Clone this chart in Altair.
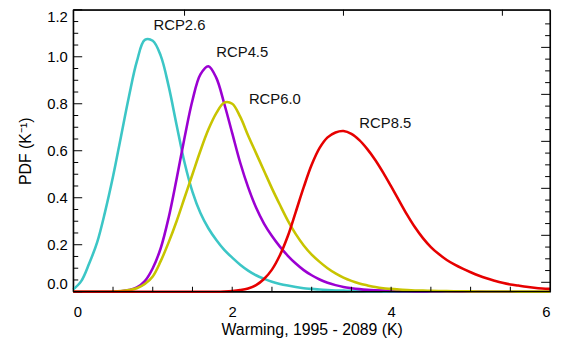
import altair as alt
import pandas as pd

# ---- data ----
x_grid = [round(i * 0.1, 1) for i in range(61)]  # 0.0 .. 6.0 K

rcp26 = [0.01, 0.045, 0.12, 0.21, 0.34, 0.49, 0.66, 0.83, 0.98, 1.072,
         1.068, 1.005, 0.875, 0.71, 0.55, 0.425, 0.335, 0.27, 0.22, 0.178,
         0.145, 0.115, 0.09, 0.07, 0.055, 0.042, 0.033, 0.026, 0.02, 0.015,
         0.012, 0.009, 0.007, 0.0055, 0.0045, 0.0035, 0.003, 0.0025, 0.002, 0.0015,
         0.0012, 0.001, 0.0008, 0.0006, 0.0005, 0.0004, 0.0003, 0.0002, 0.0002, 0.0001,
         0.0001, 0.0001, 0.0, 0.0, 0.0, 0.0, 0.0, 0.0, 0.0, 0.0, 0.0]

rcp45 = [0.0, 0.0, 0.0, 0.0, 0.0, 0.0, 0.002, 0.007, 0.018, 0.045,
         0.10, 0.185, 0.315, 0.48, 0.655, 0.815, 0.925, 0.96, 0.91, 0.80,
         0.675, 0.55, 0.445, 0.358, 0.29, 0.237, 0.192, 0.153, 0.12, 0.092,
         0.07, 0.052, 0.038, 0.028, 0.02, 0.015, 0.011, 0.008, 0.006, 0.0045,
         0.0035, 0.0025, 0.002, 0.0015, 0.001, 0.0008, 0.0006, 0.0005, 0.0004, 0.0003,
         0.0002, 0.0002, 0.0001, 0.0001, 0.0, 0.0, 0.0, 0.0, 0.0, 0.0, 0.0]

rcp60 = [0.0, 0.0, 0.0, 0.0, 0.0, 0.001, 0.003, 0.007, 0.015, 0.033,
         0.065, 0.13, 0.21, 0.30, 0.40, 0.50, 0.60, 0.69, 0.76, 0.805,
         0.80, 0.745, 0.665, 0.59, 0.515, 0.44, 0.37, 0.303, 0.245, 0.197,
         0.158, 0.127, 0.10, 0.078, 0.06, 0.046, 0.035, 0.027, 0.02, 0.015,
         0.012, 0.009, 0.007, 0.0055, 0.0045, 0.0035, 0.003, 0.0025, 0.002, 0.0016,
         0.0013, 0.001, 0.0008, 0.0007, 0.0006, 0.0005, 0.0004, 0.0003, 0.0003, 0.0002, 0.0002]

rcp85 = [0.0, 0.0, 0.0, 0.0, 0.0, 0.0, 0.0, 0.0, 0.0, 0.0,
         0.0, 0.0, 0.0, 0.0, 0.0, 0.0, 0.0, 0.0, 0.0, 0.001,
         0.003, 0.007, 0.014, 0.028, 0.054, 0.094, 0.155, 0.237, 0.34, 0.445,
         0.54, 0.612, 0.657, 0.678, 0.684, 0.672, 0.645, 0.607, 0.561, 0.507,
         0.448, 0.388, 0.328, 0.274, 0.228, 0.19, 0.16, 0.135, 0.115, 0.098,
         0.083, 0.069, 0.057, 0.047, 0.038, 0.031, 0.026, 0.021, 0.017, 0.014, 0.012]

series_names = ["RCP2.6", "RCP4.5", "RCP6.0", "RCP8.5"]
series_values = [rcp26, rcp45, rcp60, rcp85]
series_colors = ["#3CC6C6", "#9B00D2", "#C8C400", "#E60000"]

label_text = ["RCP2.6", "RCP4.5", "RCP6.0", "RCP8.5"]
label_x = [1.01, 1.80, 2.21, 3.60]
label_y = [1.133, 1.02, 0.82, 0.72]

x_tick_labels = [0, 2, 4, 6]
x_minor_ticks = [0.5, 1.0, 1.5, 2.0, 2.5, 3.0, 3.5, 4.0, 4.5, 5.0, 5.5]
top_ticks = [1.4, 3.4, 5.4]
y_major = [0.0, 0.2, 0.4, 0.6, 0.8, 1.0, 1.2]
y_minor = [0.05, 0.1, 0.15, 0.25, 0.3, 0.35, 0.45, 0.5, 0.55, 0.65, 0.7, 0.75,
           0.85, 0.9, 0.95, 1.05, 1.1, 1.15]
right_major = [0.04, 0.24, 0.44, 0.64, 0.84, 1.04]
right_minor = [0.09, 0.14, 0.19, 0.29, 0.34, 0.39, 0.49, 0.54, 0.59, 0.69, 0.74, 0.79,
               0.89, 0.94, 0.99, 1.09, 1.14]
frame_x = [0, 6]
frame_y = [0.0, 1.2]

W, H = 482, 285
FONT = "Liberation Sans"

xscale = alt.Scale(domain=[0, 6], nice=False, zero=False)
yscale = alt.Scale(domain=[0, 1.2], nice=False, zero=False)

xaxis = alt.Axis(title="Warming, 1995 - 2089 (K)", values=x_tick_labels,
                 format="d", ticks=False, domain=False, grid=False,
                 labelPadding=13, titlePadding=2, labelFontSize=15,
                 titleFontSize=16, labelFont=FONT, titleFont=FONT,
                 labelColor="black", titleColor="black", titleFontWeight="normal")
yaxis = alt.Axis(title="PDF (K⁻¹)", values=y_major, format=".1f",
                 ticks=False, domain=False, grid=False, labelFlush=True,
                 labelPadding=6, titlePadding=13, labelFontSize=15,
                 titleFontSize=16, labelFont=FONT, titleFont=FONT,
                 labelColor="black", titleColor="black", titleFontWeight="normal")

layers = []
for name, vals, col in zip(series_names, series_values, series_colors):
    df = pd.DataFrame({"x": x_grid, "y": vals})
    layers.append(
        alt.Chart(df).mark_line(color=col, strokeWidth=2.6, interpolate="catmull-rom", clip=False)
        .encode(x=alt.X("x:Q", scale=xscale, axis=xaxis),
                y=alt.Y("y:Q", scale=yscale, axis=yaxis))
    )

labels_df = pd.DataFrame({"t": label_text, "x": label_x, "y": label_y})
labels = alt.Chart(labels_df).mark_text(
    align="left", baseline="middle", fontSize=15, font=FONT, color="#111"
).encode(x=alt.X("x:Q", scale=xscale, axis=xaxis),
         y=alt.Y("y:Q", scale=yscale, axis=yaxis), text="t:N")


def hticks(vals, x0, x1, sw=1.0):
    return alt.Chart(pd.DataFrame({"v": vals})).mark_rule(color="black", strokeWidth=sw).encode(
        y=alt.Y("v:Q", scale=yscale, axis=yaxis), x=alt.value(x0), x2=alt.value(x1))


def vticks(vals, y0, y1, sw=1.0):
    return alt.Chart(pd.DataFrame({"v": vals})).mark_rule(color="black", strokeWidth=sw).encode(
        x=alt.X("v:Q", scale=xscale, axis=xaxis), y=alt.value(y0), y2=alt.value(y1))


ticks = [
    hticks(y_major, 0, 9),
    hticks(y_minor, 0, 5),
    hticks(right_major, W, W - 9),
    hticks(right_minor, W, W - 5),
    vticks(x_minor_ticks, H, H - 5),
    vticks(top_ticks, 0, 6),
    hticks(frame_y, 0, W, 1.3),
    vticks(frame_x, 0, H, 1.3),
]

chart = alt.layer(*layers, *ticks, labels).properties(
    width=W, height=H,
    autosize=alt.AutoSizeParams(type="none"),
    padding={"left": 66, "top": 0, "right": 6, "bottom": 46},
).configure_view(stroke="black", strokeWidth=1)

chart.save("out.html", embed_options={"renderer": "svg", "actions": False})
